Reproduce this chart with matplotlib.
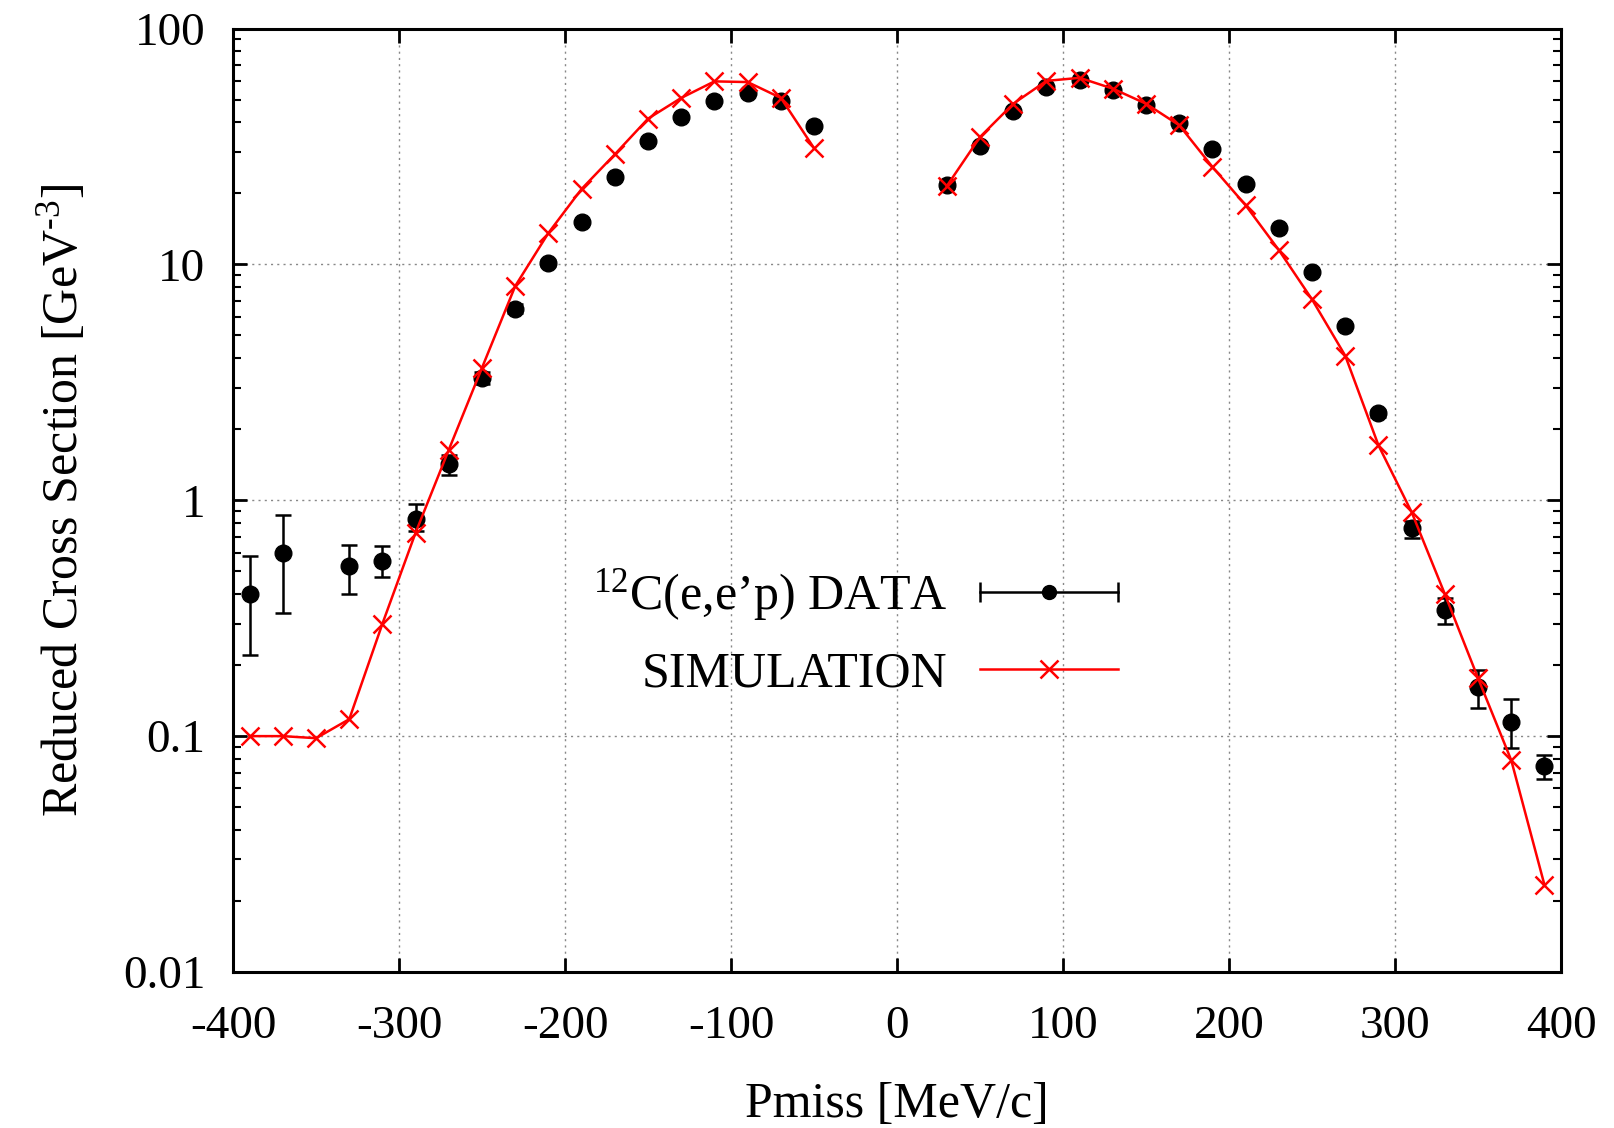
import matplotlib
matplotlib.use("Agg")
import matplotlib.pyplot as plt
from matplotlib.lines import Line2D
from matplotlib.legend_handler import HandlerBase
from matplotlib.ticker import FixedLocator, LogLocator, NullFormatter, FixedFormatter

plt.rcParams['font.family'] = ['Liberation Serif', 'DejaVu Serif']
plt.rcParams['mathtext.fontset'] = 'custom'
plt.rcParams['mathtext.rm'] = 'Liberation Serif'
plt.rcParams['mathtext.it'] = 'Liberation Serif:italic'
plt.rcParams['mathtext.bf'] = 'Liberation Serif:bold'
plt.rcParams['axes.unicode_minus'] = False

# ---- data ----
data_x = [-390, -370, -330, -310, -290, -270, -250, -230, -210, -190, -170, -150,
          -130, -110, -90, -70, -50,
          30, 50, 70, 90, 110, 130, 150, 170, 190, 210, 230, 250, 270, 290,
          310, 330, 350, 370, 390]
data_y = [0.40, 0.60, 0.525, 0.555, 0.834, 1.42, 3.3, 6.5, 10.1, 15.1, 23.5, 33.2,
          42.0, 49.5, 53.3, 49.5, 38.5,
          21.8, 31.8, 44.8, 56.5, 60.7, 54.7, 47.2, 39.9, 30.9, 21.9, 14.3, 9.3, 5.5, 2.34,
          0.76, 0.342, 0.161, 0.115, 0.075]
data_err_lo = [0.18, 0.267, 0.125, 0.084, 0.094, 0.14, 0.2, 0.3, 0.3, 0.3, 0.4, 0.5,
               0.6, 0.7, 0.7, 0.7, 0.5,
               0.7, 0.5, 0.6, 0.8, 0.9, 0.8, 0.6, 0.5, 0.4, 0.3, 0.2, 0.15, 0.08, 0.08,
               0.066, 0.042, 0.030, 0.026, 0.009]
data_err_hi = [0.18, 0.263, 0.123, 0.087, 0.126, 0.14, 0.2, 0.3, 0.3, 0.3, 0.4, 0.5,
               0.6, 0.7, 0.7, 0.7, 0.5,
               0.7, 0.5, 0.6, 0.8, 0.9, 0.8, 0.6, 0.5, 0.4, 0.3, 0.2, 0.15, 0.08, 0.08,
               0.057, 0.045, 0.029, 0.028, 0.008]

sim_x_neg = [-390, -370, -350, -330, -310, -290, -270, -250, -230, -210, -190, -170,
             -150, -130, -110, -90, -70, -50]
sim_y_neg = [0.100, 0.100, 0.098, 0.118, 0.30, 0.73, 1.64, 3.65, 8.1, 13.6, 20.9, 29.3,
             41.5, 50.8, 59.7, 59.3, 50.8, 31.1]
sim_x_pos = [30, 50, 70, 90, 110, 130, 150, 170, 190, 210, 230, 250, 270, 290,
             310, 330, 350, 370, 390]
sim_y_pos = [21.5, 34.7, 48.0, 60.0, 61.8, 55.6, 48.0, 38.9, 25.9, 17.8, 11.5, 7.1, 4.1, 1.71,
             0.89, 0.40, 0.176, 0.079, 0.0234]

x_ticks = [-400, -300, -200, -100, 0, 100, 200, 300, 400]
y_ticks = [0.01, 0.1, 1, 10, 100]
y_tick_labels = ["0.01", "0.1", "1", "10", "100"]

label_data = r"$^{\mathrm{12}}$C(e,e’p) DATA"
label_sim = "SIMULATION"

# ---- figure ----
fig = plt.figure(figsize=(16.14, 11.28), dpi=100)
ax = fig.add_axes([0.1444, 0.1383, 0.9672 - 0.1444, 0.9747 - 0.1383])

ax.errorbar(data_x, data_y, yerr=[data_err_lo, data_err_hi], fmt='o', color='black',
            ms=12, elinewidth=1.8, capsize=6, capthick=1.8, zorder=3)
sim_kw = dict(color='#ff0000', lw=1.8, marker='x', ms=13, mew=1.8, zorder=4)
ax.plot(sim_x_neg, sim_y_neg, **sim_kw)
ax.plot(sim_x_pos, sim_y_pos, **sim_kw)

ax.set_yscale('log')
ax.set_xlim(-400, 400)
ax.set_ylim(0.01, 100)
ax.xaxis.set_major_locator(FixedLocator(x_ticks))
ax.yaxis.set_major_locator(FixedLocator(y_ticks))
ax.yaxis.set_major_formatter(FixedFormatter(y_tick_labels))
ax.yaxis.set_minor_locator(LogLocator(base=10, subs=range(2, 10)))
ax.yaxis.set_minor_formatter(NullFormatter())

ax.tick_params(which='both', direction='in', top=True, right=True, labelsize=34)
ax.tick_params(which='major', length=10, width=2)
ax.tick_params(which='minor', length=6, width=1.5)
ax.tick_params(axis='x', pad=24)
ax.tick_params(axis='y', pad=20)
for s in ax.spines.values():
    s.set_linewidth(2.2)

ax.grid(True, which='major', color='#888888', linestyle=(0, (1.5, 3)), linewidth=1.0)

ax.set_xlabel("Pmiss [MeV/c]", fontsize=36, labelpad=24)
ax.set_ylabel(r"Reduced Cross Section [GeV$^{\text{-3}}$]", fontsize=36, labelpad=25)


class HandlerHErr(HandlerBase):
    def create_artists(self, legend, orig_handle, xdescent, ydescent, width, height,
                       fontsize, trans):
        y = height / 2 - ydescent
        x0, x1 = -xdescent, width - xdescent
        line = Line2D([x0, x1], [y, y], color='black', lw=1.8)
        caps = Line2D([x0, x1], [y, y], ls='none', marker='|', ms=14, mew=1.8, color='black')
        dot = Line2D([(x0 + x1) / 2], [y], ls='none', marker='o', ms=10, color='black')
        for a in (line, caps, dot):
            a.set_transform(trans)
        return [line, caps, dot]


data_handle = Line2D([], [], color='black')
sim_handle = Line2D([], [], color='#ff0000', lw=1.8, marker='x', ms=13, mew=1.8)
ax.legend([data_handle, sim_handle], [label_data, label_sim],
          handler_map={data_handle: HandlerHErr()},
          loc='center right', bbox_to_anchor=(0.666, 0.36), frameon=False,
          markerfirst=False, fontsize=36, handlelength=2.75, handletextpad=0.65,
          labelspacing=0.55, borderpad=0, borderaxespad=0)

fig.savefig("out.png", dpi=100)
